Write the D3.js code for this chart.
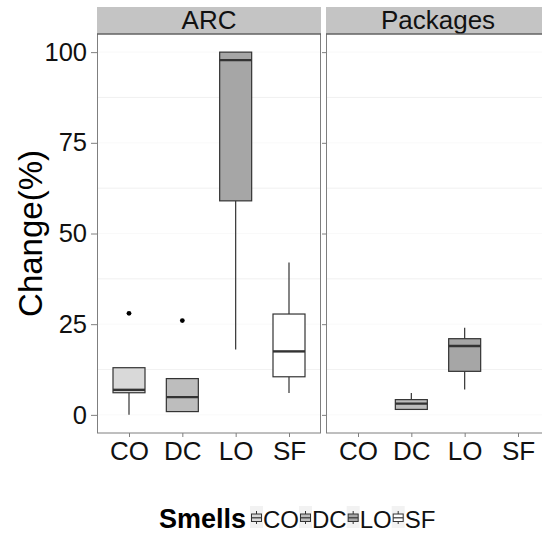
<!DOCTYPE html>
<html>
<head>
<meta charset="utf-8">
<script src="https://cdn.jsdelivr.net/npm/d3@7"></script>
<style>
  body { margin: 0; background: #fff; }
  svg text { font-family: "Liberation Sans", Arial, Helvetica, sans-serif; }
</style>
</head>
<body>
<svg id="chart" width="542" height="533"></svg>
<script>
// facets and categories
const facets = ["ARC", "Packages"];
const smells = ["CO", "DC", "LO", "SF"];
const smellFill = ["#d9d9d9", "#bdbdbd", "#a6a6a6", "#ffffff"];
const yTicks = [0, 25, 50, 75, 100];

// ARC box stats (per smell)
const arcSmells = ["CO", "DC", "LO", "SF"];
const arcLower = [0, 1, 18, 6];
const arcQ1 = [6.1, 0.9, 59, 10.5];
const arcMedian = [6.9, 4.9, 97.8, 17.5];
const arcQ3 = [13, 10, 100, 27.8];
const arcUpper = [13, 10, 100, 42];
const arcOutliers = [[28], [26], [], []];

// Packages box stats
const pkgSmells = ["DC", "LO"];
const pkgLower = [1.5, 7];
const pkgQ1 = [1.5, 12];
const pkgMedian = [3.1, 19];
const pkgQ3 = [4.2, 21];
const pkgUpper = [6, 24];
const pkgOutliers = [[], []];

document.addEventListener('DOMContentLoaded', function() {
    const svg = d3.select("#chart");
    const top = 34, bottom = 433, stripTop = 7;
    const panelX = [97, 326];
    const panelW = 224;

    const y = d3.scaleLinear().domain([-5, 105]).range([bottom, top]);
    const fill = d3.scaleOrdinal().domain(smells).range(smellFill);

    const boxData = [
        arcSmells.map((s, i) => ({smell: s, lo: arcLower[i], q1: arcQ1[i], med: arcMedian[i], q3: arcQ3[i], hi: arcUpper[i], out: arcOutliers[i]})),
        pkgSmells.map((s, i) => ({smell: s, lo: pkgLower[i], q1: pkgQ1[i], med: pkgMedian[i], q3: pkgQ3[i], hi: pkgUpper[i], out: pkgOutliers[i]}))
    ];

    facets.forEach((name, f) => {
        const x0 = panelX[f];
        const x = d3.scalePoint().domain(smells).range([x0, x0 + panelW]).padding(0.6);
        const bw = x.step() * 0.6;
        const g = svg.append("g");

        // panel background + grid
        g.append("rect").attr("x", x0).attr("y", top).attr("width", panelW).attr("height", bottom - top)
            .attr("fill", "#fff");
        const minor = [12.5, 37.5, 62.5, 87.5];
        g.selectAll(".minor").data(minor).join("line")
            .attr("x1", x0).attr("x2", x0 + panelW)
            .attr("y1", d => y(d)).attr("y2", d => y(d))
            .attr("stroke", "#eeeeee").attr("stroke-width", 0.8);
        g.selectAll(".major").data(yTicks).join("line")
            .attr("x1", x0).attr("x2", x0 + panelW)
            .attr("y1", d => y(d)).attr("y2", d => y(d))
            .attr("stroke", "#f7f7f7").attr("stroke-width", 0.8);

        // strip
        g.append("rect").attr("x", x0).attr("y", stripTop).attr("width", panelW).attr("height", top - stripTop)
            .attr("fill", "#c4c4c4");
        g.append("text").attr("x", x0 + panelW / 2).attr("y", top - 5)
            .attr("text-anchor", "middle").attr("font-size", 26).attr("fill", "#111")
            .text(name);

        // boxes
        const box = g.selectAll(".box").data(boxData[f]).join("g");
        box.append("line")
            .attr("x1", d => x(d.smell)).attr("x2", d => x(d.smell))
            .attr("y1", d => y(d.hi)).attr("y2", d => y(d.q3))
            .attr("stroke", "#333").attr("stroke-width", 1.2);
        box.append("line")
            .attr("x1", d => x(d.smell)).attr("x2", d => x(d.smell))
            .attr("y1", d => y(d.q1)).attr("y2", d => y(d.lo))
            .attr("stroke", "#333").attr("stroke-width", 1.2);
        box.append("rect")
            .attr("x", d => x(d.smell) - bw / 2).attr("width", bw)
            .attr("y", d => y(d.q3)).attr("height", d => y(d.q1) - y(d.q3))
            .attr("fill", d => fill(d.smell)).attr("stroke", "#333").attr("stroke-width", 1.2);
        box.append("line")
            .attr("x1", d => x(d.smell) - bw / 2).attr("x2", d => x(d.smell) + bw / 2)
            .attr("y1", d => y(d.med)).attr("y2", d => y(d.med))
            .attr("stroke", "#333").attr("stroke-width", 2.4);
        box.selectAll("circle").data(d => d.out.map(v => ({smell: d.smell, v}))).join("circle")
            .attr("cx", d => x(d.smell)).attr("cy", d => y(d.v)).attr("r", 2.4).attr("fill", "#000");

        // panel border
        g.append("rect").attr("x", x0 + 0.5).attr("y", top).attr("width", panelW - 1).attr("height", bottom - top)
            .attr("fill", "none").attr("stroke", "#7f7f7f").attr("stroke-width", 1);
        g.append("line").attr("x1", x0).attr("x2", x0 + panelW).attr("y1", top).attr("y2", top)
            .attr("stroke", "#555").attr("stroke-width", 1);

        // x axis
        const xa = g.append("g").attr("transform", `translate(0,${bottom})`)
            .call(d3.axisBottom(x).tickSize(4).tickPadding(5));
        xa.select(".domain").remove();
        xa.selectAll("line").attr("stroke", "#7f7f7f");
        xa.selectAll("text").attr("font-size", 26).attr("fill", "#111")
            .attr("font-family", "Liberation Sans, Arial, sans-serif");

        // y ticks
        const ya = g.append("g").attr("transform", `translate(${x0},0)`)
            .call(d3.axisLeft(y).tickValues(yTicks).tickSize(f === 0 ? 6 : 4).tickPadding(4));
        ya.select(".domain").remove();
        ya.selectAll("line").attr("stroke", "#7f7f7f");
        if (f === 0) {
            ya.selectAll("text").attr("font-size", 25.5).attr("fill", "#111")
                .attr("font-family", "Liberation Sans, Arial, sans-serif");
        } else {
            ya.selectAll("text").remove();
        }
    });

    // y axis title
    svg.append("text").attr("transform", `translate(42,${(top + bottom) / 2}) rotate(-90)`)
        .attr("text-anchor", "middle").attr("font-size", 33).attr("fill", "#000")
        .text("Change(%)");

    // legend
    const leg = svg.append("g");
    leg.append("text").attr("x", 159).attr("y", 528)
        .attr("font-size", 27).attr("font-weight", "bold").attr("fill", "#000").text("Smells");
    let lx = 250;
    smells.forEach((s, i) => {
        const k = leg.append("g").attr("transform", `translate(${lx},506)`);
        k.append("rect").attr("width", 13).attr("height", 22).attr("fill", "#f2f2f2");
        k.append("line").attr("x1", 6.5).attr("x2", 6.5).attr("y1", 5).attr("y2", 18)
            .attr("stroke", "#333").attr("stroke-width", 1);
        k.append("rect").attr("x", 1.5).attr("y", 8).attr("width", 10).attr("height", 7.5)
            .attr("fill", fill(s)).attr("stroke", "#333").attr("stroke-width", 1);
        k.append("line").attr("x1", 1.5).attr("x2", 11.5).attr("y1", 11.8).attr("y2", 11.8)
            .attr("stroke", "#333").attr("stroke-width", 1.2);
        const t = leg.append("text").attr("x", lx + 13).attr("y", 528)
            .attr("font-size", 24).attr("fill", "#111").text(s);
        lx += 13 + t.node().getComputedTextLength();
    });
});
</script>
</body>
</html>
